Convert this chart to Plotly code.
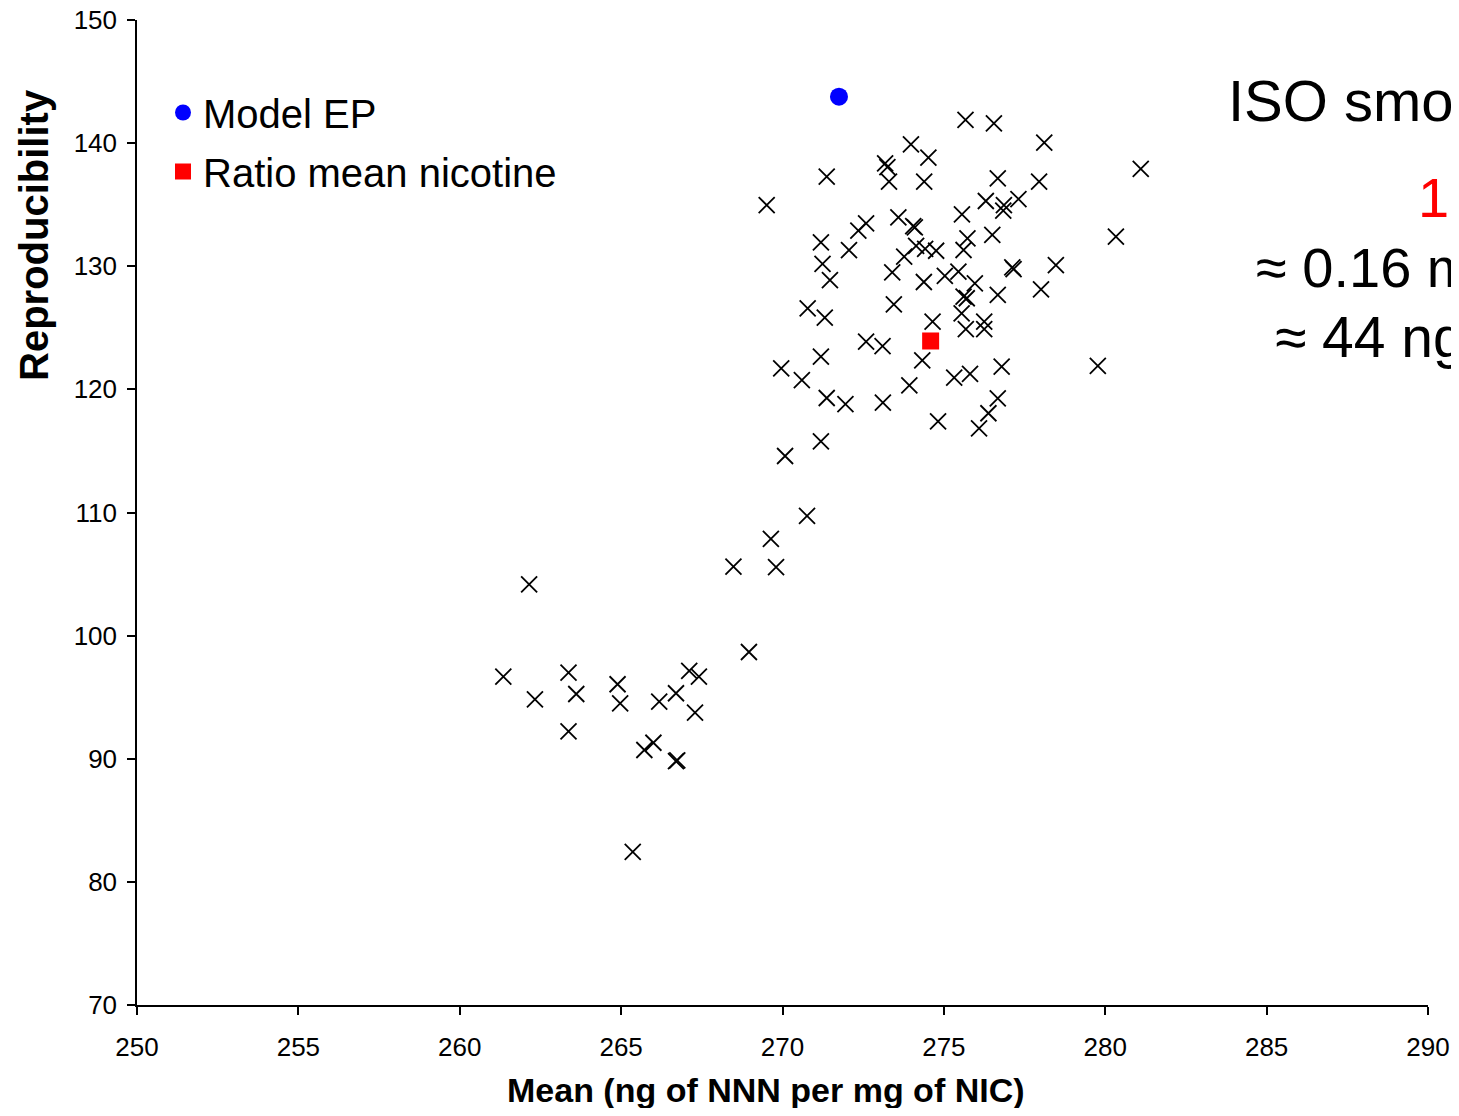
import plotly.graph_objects as go

# Scatter data (Mean NNN per mg NIC vs Reproducibility)
mean_x = [262.15, 261.35, 262.33, 263.37, 263.61, 263.37, 264.89, 264.97, 266.18, 266.70,
          267.11, 267.41, 267.29, 266.00, 265.72, 266.70, 266.74, 265.36, 268.48, 269.80,
          269.64, 268.96, 270.76, 270.08, 271.19,
          271.24, 271.47, 273.40, 274.38, 270.78, 271.31, 273.45, 274.65, 272.59, 273.10,
          271.19, 269.96, 270.60, 274.33, 273.93, 271.37, 271.95, 273.11, 274.82,
          273.98, 274.52, 273.18, 273.25, 273.30, 274.39, 271.37, 269.51, 273.59, 274.05,
          274.10, 272.59, 272.35, 271.19, 272.06, 273.77, 274.14, 274.42, 274.76, 275.67,
          276.55, 278.11, 281.10, 276.67, 277.95, 276.30, 277.31, 276.86, 276.84, 275.56,
          276.50, 275.73, 275.61, 280.33, 277.12, 277.16, 278.47, 275.45, 275.03, 275.96,
          275.61, 275.71, 276.67, 278.01, 275.55, 275.68, 276.25, 276.25, 275.32, 275.81,
          276.79, 279.77, 276.67, 276.38, 276.09]
repro_y = [104.17, 96.67, 94.83, 96.99, 95.26, 92.23, 96.05, 94.50, 94.64, 95.32,
           97.13, 96.67, 93.74, 91.30, 90.71, 89.80, 89.86, 82.43, 105.60, 105.57,
           107.85, 98.67, 109.72, 114.59, 115.78,
           130.20, 128.88, 129.50, 128.72, 126.58, 125.82, 126.91, 125.50, 123.87, 123.52,
           122.66, 121.71, 120.76, 122.35, 120.33, 119.30, 118.81, 118.92, 117.40,
           139.90, 138.82, 138.35, 138.05, 136.87, 136.87, 137.28, 134.97, 133.97, 133.25,
           133.15, 133.49, 132.89, 131.94, 131.31, 130.78, 131.66, 131.42, 131.26, 141.88,
           141.61, 140.04, 137.90, 137.14, 136.87, 135.30, 135.46, 134.97, 134.51, 134.22,
           132.54, 132.27, 131.32, 132.40, 129.90, 129.76, 130.10, 129.56, 129.21, 128.61,
           127.53, 127.40, 127.67, 128.13, 126.18, 124.90, 125.50, 124.90, 120.95, 121.25,
           121.85, 121.90, 119.27, 118.06, 116.84]

model_ep_x = [271.75]
model_ep_y = [143.77]
ratio_x = [274.59]
ratio_y = [123.93]

x_ticks = [250, 255, 260, 265, 270, 275, 280, 285, 290]
y_ticks = [70, 80, 90, 100, 110, 120, 130, 140, 150]

FONT = "Arial, Liberation Sans, sans-serif"

fig = go.Figure()
fig.add_trace(go.Scatter(
    x=mean_x, y=repro_y, mode="markers", showlegend=False,
    marker=dict(symbol="x-thin", size=16, color="black",
                line=dict(color="black", width=1.8)),
))
fig.add_trace(go.Scatter(
    x=model_ep_x, y=model_ep_y, mode="markers", name="Model EP",
    legendgroup="a",
    marker=dict(symbol="circle", size=18, color="#0000ff"),
))
fig.add_trace(go.Scatter(
    x=ratio_x, y=ratio_y, mode="markers", name="Ratio mean nicotine",
    legendgroup="b",
    marker=dict(symbol="square", size=17, color="#ff0000"),
))

W, H = 1451, 1100
L, R, T, B = 129, 31, 12, 103
pw, ph = W - L - R, H - T - B


def px(xf):
    return (xf - L) / pw


def py(yf):
    return (H - B - yf) / ph


annos = [
    dict(text="Mean (ng of NNN per mg of NIC)", x=px(758), y=py(1082), xref="paper", yref="paper",
         xanchor="center", yanchor="middle", showarrow=False,
         font=dict(family=FONT, size=34, color="black", weight="bold")),
    dict(text="Reproducibility", x=px(26), y=py(227), xref="paper", yref="paper",
         xanchor="center", yanchor="middle", showarrow=False, textangle=-90,
         font=dict(family=FONT, size=40, color="black", weight="bold")),
    dict(text="ISO smoking", x=px(1218), y=py(93), xref="paper", yref="paper",
         xanchor="left", yanchor="middle", showarrow=False,
         font=dict(family=FONT, size=58, color="black")),
    dict(text="1R5F", x=px(1408), y=py(189), xref="paper", yref="paper",
         xanchor="left", yanchor="middle", showarrow=False,
         font=dict(family=FONT, size=56, color="#ff0000")),
    dict(text="≈ 0.16 mg NIC", x=px(1246), y=py(259), xref="paper", yref="paper",
         xanchor="left", yanchor="middle", showarrow=False,
         font=dict(family=FONT, size=56, color="black")),
    dict(text="≈ 44 ng NNN", x=px(1265), y=py(329), xref="paper", yref="paper",
         xanchor="left", yanchor="middle", showarrow=False,
         font=dict(family=FONT, size=57, color="black")),
]

fig.update_layout(
    width=W, height=H,
    margin=dict(l=L, r=R, t=T, b=B, autoexpand=False),
    paper_bgcolor="white", plot_bgcolor="white",
    font=dict(family=FONT, color="black"),
    xaxis=dict(range=[250, 290], tickvals=x_ticks, ticktext=[str(v) for v in x_ticks],
               showgrid=False, zeroline=False, showline=True, linecolor="black", linewidth=1.5,
               ticks="outside", ticklen=8, tickwidth=1.5, tickcolor="black",
               tickfont=dict(size=26, family=FONT, color="black"), ticklabelstandoff=10,
               ticklabeloverflow="allow", automargin=False),
    yaxis=dict(range=[70, 150], tickvals=y_ticks, ticktext=[str(v) for v in y_ticks],
               showgrid=False, zeroline=False, showline=True, linecolor="black", linewidth=1.5,
               ticks="outside", ticklen=8, tickwidth=1.5, tickcolor="black",
               tickfont=dict(size=26, family=FONT, color="black"), ticklabelstandoff=5,
               ticklabeloverflow="allow", automargin=False),
    legend=dict(x=px(155), y=py(72), xanchor="left", yanchor="top",
                bgcolor="rgba(0,0,0,0)", borderwidth=0, tracegroupgap=4,
                font=dict(family=FONT, size=40, color="black"), itemsizing="trace"),
    annotations=annos,
    showlegend=True,
)

fig.write_html("out.html")
